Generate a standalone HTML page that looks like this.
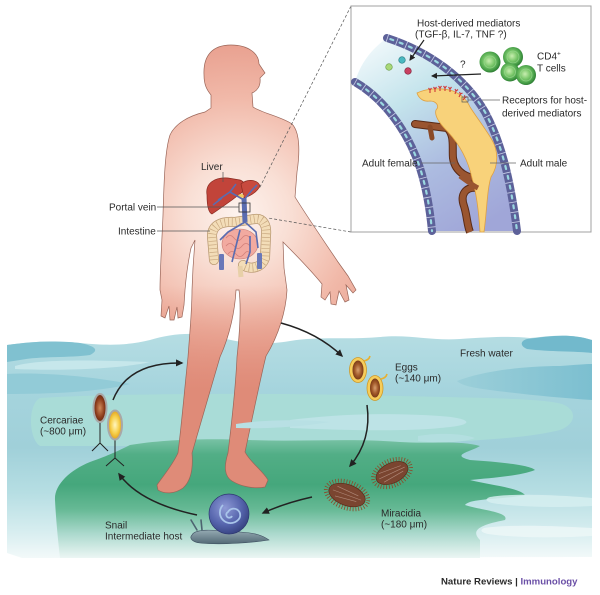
<!DOCTYPE html>
<html><head><meta charset="utf-8"><style>
html,body{margin:0;padding:0;background:#fff;}
svg{display:block;}
text{font-family:"Liberation Sans",sans-serif;fill:#2a2a2a;}
</style></head><body>
<svg width="600" height="595" viewBox="0 0 600 595" xmlns="http://www.w3.org/2000/svg">
<defs>
<linearGradient id="waterG" x1="0" y1="335" x2="0" y2="560" gradientUnits="userSpaceOnUse">
<stop offset="0" stop-color="#b5dde3"/><stop offset="0.25" stop-color="#a5d4dd"/><stop offset="0.5" stop-color="#a0d0d9"/><stop offset="0.7" stop-color="#b6dee3"/><stop offset="0.88" stop-color="#d8eef0"/><stop offset="1" stop-color="#f5fafa"/>
</linearGradient>
<linearGradient id="greenG" x1="0" y1="436" x2="0" y2="558" gradientUnits="userSpaceOnUse">
<stop offset="0" stop-color="#80c6ab"/><stop offset="0.15" stop-color="#52ae86"/><stop offset="0.4" stop-color="#45a77c"/><stop offset="0.6" stop-color="#66b995"/><stop offset="0.8" stop-color="#abd9cd"/><stop offset="1" stop-color="#ecf6f4"/>
</linearGradient>
<radialGradient id="bodyG" cx="238" cy="215" r="260" gradientUnits="userSpaceOnUse">
<stop offset="0" stop-color="#fdf3ee"/><stop offset="0.2" stop-color="#f9dfd5"/><stop offset="0.45" stop-color="#f1b9a9"/><stop offset="0.7" stop-color="#e79c8b"/><stop offset="1" stop-color="#dd8674"/>
</radialGradient>
<linearGradient id="legG" x1="0" y1="285" x2="0" y2="390" gradientUnits="userSpaceOnUse">
<stop offset="0" stop-color="#df8b78" stop-opacity="0"/><stop offset="1" stop-color="#df8b78" stop-opacity="1"/>
</linearGradient>
<linearGradient id="lumenG" x1="375" y1="45" x2="485" y2="225" gradientUnits="userSpaceOnUse">
<stop offset="0" stop-color="#eef7fa"/><stop offset="0.3" stop-color="#c4e4ec"/><stop offset="0.65" stop-color="#acbbe0"/><stop offset="1" stop-color="#a0a6d8"/>
</linearGradient>
<radialGradient id="cellG" cx="0.45" cy="0.45" r="0.55">
<stop offset="0" stop-color="#c8eeb0"/><stop offset="0.45" stop-color="#7cc86c"/><stop offset="0.8" stop-color="#4aa24a"/><stop offset="1" stop-color="#2f7f35"/>
</radialGradient>
<radialGradient id="shellG" cx="0.4" cy="0.35" r="0.7">
<stop offset="0" stop-color="#8e9ad6"/><stop offset="0.6" stop-color="#5564ac"/><stop offset="1" stop-color="#34407e"/>
</radialGradient>
<linearGradient id="slugG" x1="0" y1="528" x2="0" y2="545" gradientUnits="userSpaceOnUse">
<stop offset="0" stop-color="#9fb4bc"/><stop offset="1" stop-color="#4d6470"/>
</linearGradient>
<radialGradient id="eggG" cx="0.5" cy="0.5" r="0.5">
<stop offset="0" stop-color="#d8a070"/><stop offset="0.6" stop-color="#a25a2a"/><stop offset="1" stop-color="#7a3a18"/>
</radialGradient>
<radialGradient id="cerB" cx="0.5" cy="0.5" r="0.5">
<stop offset="0" stop-color="#d08a5a"/><stop offset="0.7" stop-color="#8a3a1a"/><stop offset="1" stop-color="#6a2a10"/>
</radialGradient>
<radialGradient id="cerY" cx="0.5" cy="0.5" r="0.5">
<stop offset="0" stop-color="#fff6c0"/><stop offset="0.6" stop-color="#f6cf4a"/><stop offset="1" stop-color="#e0a020"/>
</radialGradient>
<linearGradient id="bandR" x1="457" y1="0" x2="592" y2="0" gradientUnits="userSpaceOnUse">
<stop offset="0" stop-color="#9ccfd9"/><stop offset="1" stop-color="#7cbfd0"/>
</linearGradient>
<clipPath id="bodyClip"><path id="bp" d="M 231 45 C 249 45 259 54 259 64 L 265 73 L 260 78 C 261 86 257 91 252 93 L 253 107 C 262 113 282 117 292 124 C 300 132 300 152 297 172 L 295 197 C 308 218 326 244 338 262 L 348 276 L 356 290 L 353 293 L 346 285 L 349 300 L 345 302 L 339 291 L 336 305 L 331 304 L 330 292 L 325 300 L 321 297 L 322 284 C 309 268 293 252 283 242 L 284 268 L 287 290 C 286 310 279 335 266 356 C 260 380 252 420 245 452 C 250 462 262 470 268 480 L 265 487 C 255 489 242 487 232 481 C 224 476 224 466 228 453 C 232 420 236 380 237 357 C 240 330 241 305 239 290 L 236 290 C 235 310 230 335 220 357 C 212 385 200 425 192 453 C 193 465 192 480 183 488 C 176 493 166 495 158 490 L 157 485 C 163 476 172 466 178 453 C 182 420 185 385 188 357 C 190 330 192 310 192 290 L 193 268 L 195 240 L 191 248 C 188 262 186 278 185 290 L 184 305 L 182 317 L 178 318 L 177 307 L 174 320 L 170 320 L 169 306 L 165 318 L 161 316 L 162 300 L 160 290 C 160 270 162 240 163 215 C 164 180 165 150 170 135 C 175 124 188 116 205 112 L 211 108 L 211 95 C 207 90 204 85 204 75 C 203 55 213 45 231 45 Z"/></clipPath>
<marker id="ah" markerWidth="10" markerHeight="10" refX="6" refY="4" orient="auto" markerUnits="userSpaceOnUse"><path d="M0,0.5 L7.5,4 L0,7.5 Z" fill="#222"/></marker>
<marker id="ahs" markerWidth="8" markerHeight="8" refX="5" refY="3" orient="auto" markerUnits="userSpaceOnUse"><path d="M0,0 L6,3 L0,6 Z" fill="#222"/></marker>
</defs>

<rect width="600" height="595" fill="#fff"/>

<!-- WATER -->
<path d="M 7 345 C 30 342 50 340 80 343 C 110 346 130 345 150 340 C 170 334 190 332 215 336 C 240 343 260 346 290 341 C 320 336 350 340 380 337 C 410 334 430 341 460 339 C 490 337 510 336 530 338 C 550 336 570 333 592 340 L 592 557 L 22 558 L 7 553 Z" fill="url(#waterG)"/>
<!-- top-left dark patch -->
<path d="M 7 345 C 30 342 50 340 80 343 C 95 346 100 350 90 355 C 70 358 40 356 20 360 L 7 362 Z" fill="#80c1d0"/>
<path d="M 15 366 C 40 359 90 360 150 362 C 120 369 60 371 15 369 Z" fill="#c6e7eb"/>
<path d="M 7 374 C 40 372 90 376 130 384 C 100 392 50 394 7 394 Z" fill="#92cbd7"/>
<!-- top-right -->
<path d="M 527 339 C 550 336 570 333 592 340 L 592 353 C 575 351 550 352 527 349 C 520 346 520 341 527 339 Z" fill="#72b9cc"/>
<path d="M 457 381 C 480 372 520 366 560 366 C 575 365 585 364 592 364 L 592 400 C 560 398 520 394 490 390 C 475 388 462 386 457 381 Z" fill="url(#bandR)"/>
<!-- light teal band -->
<path d="M 40 398 C 100 394 250 392 400 396 C 480 398 540 398 562 404 C 578 410 576 424 560 430 C 520 440 450 442 350 446 L 40 446 C 28 438 28 404 40 398 Z" fill="#a9dcd7"/>
<path d="M 290 420 C 330 415 380 412 440 416 C 470 418 480 425 440 428 C 400 432 340 430 290 428 Z" fill="#bde3e6"/>
<!-- green -->
<path d="M 130 445 C 160 440 200 438 250 440 C 300 442 350 438 400 442 C 430 444 460 440 480 446 C 470 452 450 455 470 460 C 500 462 530 465 535 470 C 520 476 490 478 470 480 C 490 485 520 488 525 495 C 500 500 470 498 465 505 C 480 510 510 512 505 520 C 480 525 470 530 480 540 L 480 558 L 60 558 C 58 540 56 520 55 500 C 54 485 70 470 90 462 C 110 455 120 450 130 445 Z" fill="url(#greenG)"/>
<path d="M 418 436 C 440 432 465 434 475 438 C 465 442 440 444 418 441 Z" fill="#b3dfe0"/>
<path d="M 490 497 C 510 493 560 495 592 498 L 592 506 C 560 508 515 507 492 503 C 485 501 485 499 490 497 Z" fill="#d6eef0" opacity="0.85"/>
<path d="M 484 528 C 510 524 560 526 592 528 L 592 536 C 560 538 515 538 488 534 C 480 532 480 530 484 528 Z" fill="#eef8f8" opacity="0.8"/>

<!-- BODY -->
<use href="#bp" fill="url(#bodyG)"/>
<rect x="150" y="280" width="140" height="220" fill="url(#legG)" clip-path="url(#bodyClip)"/>
<use href="#bp" fill="none" stroke="#9a6558" stroke-width="0.7"/>
<path d="M 236 424 C 260 420 300 419 330 422 C 300 427 265 429 236 428 Z" fill="#b8e0e4"/>

<!-- Organs -->
<path d="M 214 260 L 212 236 C 212 226 220 221 235 222 L 255 219 C 263 218 267 225 266 235 L 265 258 C 262 268 250 270 243 265" fill="none" stroke="#b89870" stroke-width="10" stroke-linecap="round"/>
<path d="M 214 260 L 212 236 C 212 226 220 221 235 222 L 255 219 C 263 218 267 225 266 235 L 265 258 C 262 268 250 270 243 265" fill="none" stroke="#f3ddb8" stroke-width="8.5" stroke-linecap="round"/>
<path d="M 214 260 L 212 236 C 212 226 220 221 235 222 L 255 219 C 263 218 267 225 266 235 L 265 258 C 262 268 250 270 243 265" fill="none" stroke="#c9a880" stroke-width="8" stroke-dasharray="0.7 3"/>
<path d="M 240 266 L 241 277" stroke="#e8d0a8" stroke-width="5"/>
<ellipse cx="240" cy="244" rx="18" ry="15" fill="#f2aaa0" stroke="#c88078" stroke-width="0.6"/>
<path d="M 226 238 q 4 -5 8 0 t 8 0 t 8 0 M 226 246 q 4 -5 8 0 t 8 0 t 8 0 M 228 254 q 4 -5 8 0 t 8 0 t 6 0" fill="none" stroke="#d2807a" stroke-width="0.8"/>
<rect x="219" y="254" width="5" height="16" rx="1" fill="#6a78b8"/>
<rect x="257" y="253" width="5" height="16" rx="1" fill="#6a78b8"/>
<path d="M 207 195 C 205 183 215 177 228 178 L 240 180 C 245 182 246 186 245 190 L 232 200 C 225 205 218 210 212 214 C 207 212 207 200 207 195 Z" fill="#c2443a" stroke="#8a2a20" stroke-width="0.7"/>
<path d="M 241 184 C 248 178 258 180 260 186 C 257 192 250 196 244 198 Z" fill="#c84a3e" stroke="#8a2a20" stroke-width="0.7"/>
<ellipse cx="241" cy="196" rx="3" ry="2" fill="#f0c860"/>
<path d="M 245 222 L 244 198" stroke="#5a6cb0" stroke-width="5"/>
<path d="M 244 200 L 230 192 L 218 200 M 230 192 L 236 184 M 244 200 L 252 190 L 257 185 M 213 205 L 222 198 M 245 222 L 228 232 L 220 240 M 245 222 L 256 232 L 258 248 M 240 230 L 235 250 L 232 262 M 250 236 L 250 252 L 246 264" fill="none" stroke="#5a6cb0" stroke-width="1.6"/>
<rect x="239" y="203" width="11" height="9" fill="none" stroke="#333" stroke-width="0.8"/>

<!-- leader lines -->
<path d="M 223 172 L 223 182" stroke="#555" stroke-width="0.7"/>
<path d="M 157 207 L 239 207 M 157 231 L 210 231" stroke="#555" stroke-width="0.7"/>
<path d="M 351 6 L 259 189 M 351 232 L 268 218" stroke="#555" stroke-width="0.7" stroke-dasharray="3 2"/>

<text x="201" y="170" font-size="10">Liver</text>
<text x="109" y="210.5" font-size="10">Portal vein</text>
<text x="118" y="234.5" font-size="10">Intestine</text>

<!-- INSET -->
<rect x="351" y="6" width="240" height="226" fill="#fff" stroke="#a0a0a0" stroke-width="1"/>
<path d="M 355 82 C 385 98 412 130 422 173 L 432 231 L 517 231 C 512 200 505 160 487 117 C 475 90 440 58 387 38 C 370 50 360 65 355 82 Z" fill="url(#lumenG)"/>
<path d="M 415 124 L 447 128 C 455 135 452 148 453 158 C 455 172 468 180 482 178" fill="none" stroke="#5a2a15" stroke-width="8" stroke-linecap="round"/>
<path d="M 415 124 L 447 128 C 455 135 452 148 453 158 C 455 172 468 180 482 178" fill="none" stroke="#9a5530" stroke-width="6" stroke-linecap="round"/>
<path d="M 430 127 L 432 138" stroke="#8a4a28" stroke-width="5" stroke-linecap="round"/>
<path d="M 478 188 C 465 186 460 195 464 206 C 467 215 467 225 470 232" fill="none" stroke="#5a2a15" stroke-width="8"/>
<path d="M 478 188 C 465 186 460 195 464 206 C 467 215 467 225 470 232" fill="none" stroke="#9a5530" stroke-width="6"/>
<path d="M 417 93 C 425 89 440 87 453 91 C 460 94 466 98 470 107 C 477 118 485 128 492 140 C 498 150 499 165 491 177 C 487 190 487 210 484 232 L 480 232 C 479 215 477 195 472 178 C 468 160 460 145 448 132 C 440 124 434 116 436 110 C 440 106 436 101 430 101 C 424 102 419 99 417 93 Z" fill="#f8d27a" stroke="#e0a040" stroke-width="0.8"/>
<path d="M 460 176 C 468 182 474 186 478 188" fill="none" stroke="#9a5530" stroke-width="5"/>
<g stroke="#d03838" stroke-width="1.1" fill="none">
<path d="M 430 93 l0 -3 m0 0 l-1.5 -2 m1.5 2 l1.5 -2"/>
<path d="M 435 92 l0 -3 m0 0 l-1.5 -2 m1.5 2 l1.5 -2"/>
<path d="M 440 91 l0 -3 m0 0 l-1.5 -2 m1.5 2 l1.5 -2"/>
<path d="M 445 91 l0 -3 m0 0 l-1.5 -2 m1.5 2 l1.5 -2"/>
<path d="M 450 92 l0 -3 m0 0 l-1.5 -2 m1.5 2 l1.5 -2"/>
<path d="M 455 94 l1 -3 m0 0 l-1 -2 m1 2 l2 -1.5"/>
<path d="M 459 97 l1.5 -3 m0 0 l-1 -2 m1 2 l2 -1"/>
<path d="M 463 100 l2 -2.5 m0 0 l-0.5 -2.2 m0.5 2.2 l2.2 -0.8"/>
</g>
<rect x="462" y="97" width="6" height="5" fill="none" stroke="#555" stroke-width="0.7"/>
<path d="M 468 100 L 500 100" stroke="#666" stroke-width="0.7"/>
<!-- vessel walls -->
<g fill="none" stroke-linecap="round">
<path d="M 355 82 C 381 97 407 128 420 168 C 427 190 430 210 432 231" stroke="#5d6199" stroke-width="8"/>
<path d="M 387 38 C 430 52 465 78 485 112 C 500 140 510 175 517 231" stroke="#5d6199" stroke-width="8"/>
<path d="M 355 82 C 381 97 407 128 420 168 C 427 190 430 210 432 231" stroke="#c8cfe8" stroke-width="8" stroke-dasharray="0.8 9.2" stroke-linecap="butt"/>
<path d="M 387 38 C 430 52 465 78 485 112 C 500 140 510 175 517 231" stroke="#c8cfe8" stroke-width="8" stroke-dasharray="0.8 9.2" stroke-linecap="butt"/>
<path d="M 355 82 C 381 97 407 128 420 168 C 427 190 430 210 432 231" stroke="#9ad8e0" stroke-width="2.2" stroke-dasharray="3 7" stroke-dashoffset="-3.5"/>
<path d="M 387 38 C 430 52 465 78 485 112 C 500 140 510 175 517 231" stroke="#9ad8e0" stroke-width="2.2" stroke-dasharray="3 7" stroke-dashoffset="-3.5"/>
</g>
<circle cx="389" cy="67" r="3.3" fill="#a8d878" stroke="#6a9a48" stroke-width="0.6"/>
<circle cx="402" cy="60" r="3.3" fill="#4ab8c0" stroke="#2a7a80" stroke-width="0.6"/>
<circle cx="408" cy="71" r="3.3" fill="#c84060" stroke="#7a2038" stroke-width="0.6"/>
<circle cx="490" cy="62" r="10.5" fill="url(#cellG)"/>
<circle cx="513" cy="57" r="10" fill="url(#cellG)"/>
<circle cx="510" cy="72" r="9.5" fill="url(#cellG)"/>
<circle cx="526" cy="75" r="10" fill="url(#cellG)"/>
<g fill="none" stroke="#9ad890" stroke-width="0.8" opacity="0.8">
<circle cx="490" cy="62" r="6"/><circle cx="513" cy="57" r="6"/><circle cx="510" cy="72" r="5.5"/><circle cx="526" cy="75" r="6"/>
</g>
<path d="M 424 40 L 410 60" stroke="#222" stroke-width="1.2" marker-end="url(#ahs)"/>
<path d="M 481 74 L 432 76" stroke="#222" stroke-width="1.2" marker-end="url(#ahs)"/>
<path d="M 421 163 L 455 163 M 490 163 L 516 163" stroke="#666" stroke-width="0.7"/>

<text x="417" y="26.5" font-size="10">Host-derived mediators</text>
<text x="415" y="37.5" font-size="10">(TGF-β, IL-7, TNF ?)</text>
<text x="460" y="67.5" font-size="10">?</text>
<text x="537" y="59.5" font-size="10">CD4<tspan font-size="6.5" dy="-4">+</tspan></text>
<text x="537" y="71.5" font-size="10">T cells</text>
<text x="502" y="103.5" font-size="10">Receptors for host-</text>
<text x="502" y="116.5" font-size="10">derived mediators</text>
<text x="362" y="166.5" font-size="10">Adult female</text>
<text x="520" y="166.5" font-size="10">Adult male</text>

<!-- LIFE CYCLE -->
<path d="M 281 323 Q 318 333 342 356" fill="none" stroke="#222" stroke-width="1.5" marker-end="url(#ah)"/>
<path d="M 367 405 Q 372 440 350 466" fill="none" stroke="#222" stroke-width="1.5" marker-end="url(#ah)"/>
<path d="M 312 497 Q 285 503 263 513" fill="none" stroke="#222" stroke-width="1.5" marker-end="url(#ah)"/>
<path d="M 197 515 Q 140 503 119 474" fill="none" stroke="#222" stroke-width="1.5" marker-end="url(#ah)"/>
<path d="M 113 400 Q 128 362 182 363" fill="none" stroke="#222" stroke-width="1.5" marker-end="url(#ah)"/>

<!-- eggs -->
<path d="M 364 361 q 5 -1 6 -5" fill="none" stroke="#e8b030" stroke-width="1.6"/>
<ellipse cx="358" cy="370" rx="8.5" ry="12.5" fill="#f6cd5a" stroke="#d09a28" stroke-width="0.8"/>
<ellipse cx="358" cy="370" rx="5.5" ry="9.5" fill="url(#eggG)"/>
<path d="M 381 379 q 5 -1 6 -5" fill="none" stroke="#e8b030" stroke-width="1.6"/>
<ellipse cx="375" cy="388" rx="8" ry="12.5" fill="#f6cd5a" stroke="#d09a28" stroke-width="0.8"/>
<ellipse cx="375" cy="388" rx="5" ry="9.5" fill="url(#eggG)"/>
<text x="395" y="370.5" font-size="10">Eggs</text>
<text x="395" y="381.5" font-size="10">(~140 μm)</text>
<text x="460" y="356.5" font-size="10">Fresh water</text>

<!-- miracidia -->
<g transform="rotate(20 347 495)">
<ellipse cx="347" cy="495" rx="22" ry="13" fill="none" stroke="#8b4a2a" stroke-width="4" stroke-dasharray="0.8 2"/>
<ellipse cx="347" cy="495" rx="19" ry="10.5" fill="#7a4530" stroke="#5a2a18" stroke-width="0.7"/>
<path d="M 332 495 L 362 495 M 335 490 L 358 492 M 336 500 L 358 498" stroke="#b08878" stroke-width="0.6"/>
</g>
<g transform="rotate(-25 392 473)">
<ellipse cx="392" cy="473" rx="20" ry="12.5" fill="none" stroke="#8b4a2a" stroke-width="4" stroke-dasharray="0.8 2"/>
<ellipse cx="392" cy="473" rx="17" ry="10" fill="#7a4530" stroke="#5a2a18" stroke-width="0.7"/>
<path d="M 378 473 L 406 473 M 380 468 L 403 470 M 381 478 L 403 476" stroke="#b08878" stroke-width="0.6"/>
</g>
<text x="381" y="516.5" font-size="10">Miracidia</text>
<text x="381" y="527.5" font-size="10">(~180 μm)</text>

<!-- snail -->
<path d="M 197 530 L 191 520 M 202 530 L 201 520" stroke="#4d6470" stroke-width="1.6" stroke-linecap="round"/>
<path d="M 192 535 C 195 528 215 530 240 532 C 255 533 262 535 269 540 C 250 543 220 545 200 543 C 192 542 189 538 192 535 Z" fill="url(#slugG)" stroke="#3d5060" stroke-width="0.6"/>
<circle cx="229" cy="514" r="20" fill="url(#shellG)" stroke="#2e3870" stroke-width="0.7"/>
<path d="M 232 516 a 3 3 0 1 1 -4 -4 a 6.5 6.5 0 1 1 10 8 a 10.5 10.5 0 1 1 -15 -15" fill="none" stroke="#a8c4ea" stroke-width="1.8"/>
<text x="105" y="528.5" font-size="10">Snail</text>
<text x="105" y="539.5" font-size="10">Intermediate host</text>

<!-- cercariae -->
<path d="M 100 421 L 100 443 M 100 443 L 92 451 M 100 443 L 108 451" stroke="#222" stroke-width="1" fill="none"/>
<ellipse cx="100" cy="408" rx="6.5" ry="14" fill="url(#cerB)" stroke="#a8a8a8" stroke-width="2"/>
<path d="M 115 440 L 115 458 M 115 458 L 106 466 M 115 458 L 124 466" stroke="#222" stroke-width="1" fill="none"/>
<ellipse cx="115" cy="425" rx="7" ry="14.5" fill="url(#cerY)" stroke="#a8a8a8" stroke-width="2"/>
<text x="40" y="423.5" font-size="10">Cercariae</text>
<text x="40" y="434.5" font-size="10">(~800 μm)</text>

<!-- credit -->
<text x="441" y="584.5" font-size="9.6" font-weight="bold" fill="#111">Nature Reviews | <tspan fill="#6a4fa6">Immunology</tspan></text>
</svg>
</body></html>
